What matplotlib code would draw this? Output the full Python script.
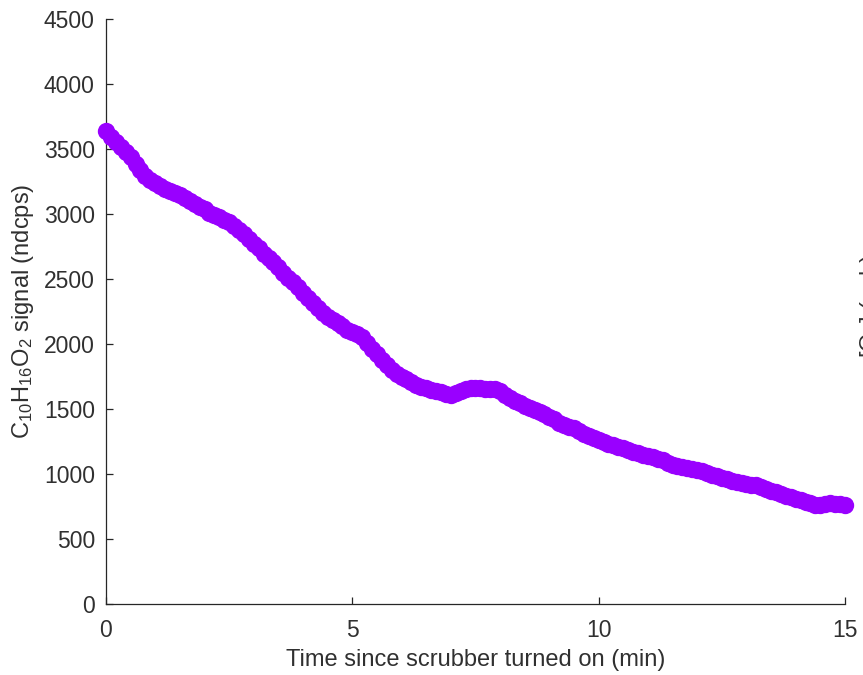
import numpy as np
import matplotlib
matplotlib.use("Agg")
import matplotlib.pyplot as plt

plt.rcParams['font.family'] = ['Liberation Sans', 'DejaVu Sans']
plt.rcParams['mathtext.fontset'] = 'custom'
plt.rcParams['mathtext.rm'] = 'Liberation Sans'
plt.rcParams['mathtext.it'] = 'Liberation Sans:italic'

# time since scrubber on (min), one reading every 0.1 min
time_min = np.round(np.arange(0, 15.01, 0.1), 1)

# C10H16O2 signal (ndcps)
signal = [
    3640, 3590, 3555, 3515, 3480, 3440, 3385, 3335, 3295, 3265,
    3240, 3215, 3195, 3175, 3160, 3145, 3120, 3100, 3075, 3055,
    3035, 3010, 2995, 2975, 2955, 2935, 2910, 2880, 2845, 2810,
    2770, 2735, 2695, 2665, 2630, 2590, 2545, 2505, 2475, 2440,
    2395, 2355, 2315, 2275, 2240, 2210, 2185, 2160, 2135, 2110,
    2095, 2075, 2050, 2010, 1965, 1920, 1880, 1835, 1800, 1772,
    1748, 1728, 1705, 1688, 1672, 1658, 1648, 1640, 1630, 1618,
    1608, 1625, 1640, 1650, 1658, 1662, 1660, 1655, 1652, 1650,
    1640, 1610, 1585, 1560, 1545, 1525, 1510, 1495, 1480, 1460,
    1440, 1420, 1395, 1380, 1365, 1350, 1330, 1310, 1290, 1275,
    1265, 1245, 1230, 1220, 1210, 1198, 1185, 1172, 1160, 1148,
    1138, 1128, 1118, 1108, 1085, 1070, 1062, 1055, 1048, 1040,
    1030, 1020, 1005, 995, 985, 970, 958, 945, 935, 928,
    922, 918, 914, 900, 885, 872, 858, 845, 832, 820,
    810, 800, 788, 775, 765, 765, 770, 775, 772, 766,
    762,
]

xticks = [0, 5, 10, 15]
yticks = list(range(0, 4501, 500))

fig = plt.figure(figsize=(8.63, 6.75), dpi=100)
ax = fig.add_axes([0.1228, 0.1052, 0.8563, 0.8667])

ax.plot(time_min, signal, 'o', color='#9900ff', markersize=12.5,
        markeredgewidth=0, linestyle='none', clip_on=False, zorder=3)

ax.set_xlim(0, 15)
ax.set_ylim(0, 4500)
ax.set_xticks(xticks)
ax.set_yticks(yticks)

dark = '#303030'
for side in ['top', 'right']:
    ax.spines[side].set_visible(False)
for side in ['left', 'bottom']:
    ax.spines[side].set_color('#262626')
    ax.spines[side].set_linewidth(0.9)
ax.tick_params(direction='in', length=5, width=0.9, colors='#262626',
               labelcolor=dark, labelsize=16.5)
ax.tick_params(axis='x', pad=11)
ax.tick_params(axis='y', pad=8)

ax.set_xlabel('Time since scrubber turned on (min)', fontsize=17,
              color=dark, labelpad=5)
ax.set_ylabel(r'C$_{10}$H$_{16}$O$_2$ signal (ndcps)', fontsize=17,
              color=dark, labelpad=6)

# right-hand axis label, cut off by the figure edge as in the original
fig.text(0.994, 0.547, r'[O$_3$] (ppb)', rotation=90, ha='left', va='center',
         fontsize=17, color=dark)

fig.savefig('out.png', dpi=100)
